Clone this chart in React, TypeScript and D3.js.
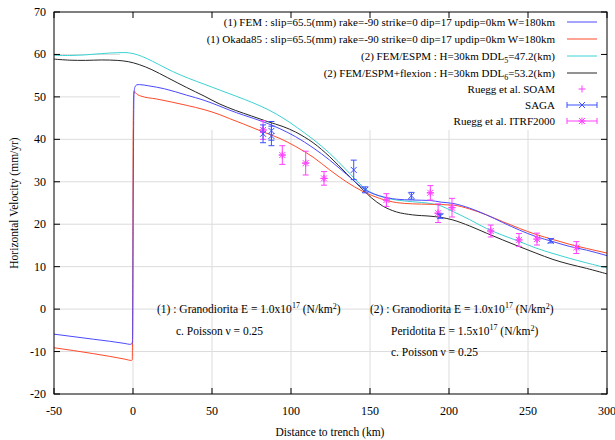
import React from "react";
import * as d3 from "d3";

const xTicks = [-50, 0, 50, 100, 150, 200, 250, 300];
const yTicks = [-20, -10, 0, 10, 20, 30, 40, 50, 60, 70];

const femBlue: [number, number][] = [
  [-50, -5.9], [-25, -7.1], [-5, -8.1], [-2, -8.3], [-0.8, -8.2], [-0.3, -7.5], [0.2, 30], [0.6, 50.5],
  [1.2, 52.3], [2.5, 52.85], [4, 52.9], [10, 52.6], [20, 51.9], [34, 50.4], [45, 49.2], [55, 47.8],
  [61, 46.9], [70, 45.7], [82, 44.2], [93, 42.5], [103, 40.6], [114, 38.0], [124.5, 35.1], [135, 31.8],
  [145.6, 28.5], [150, 27.5], [156, 26.7], [166.7, 25.9], [177, 25.7], [187.8, 25.6], [195, 25.2],
  [202.5, 24.9], [213, 23.8], [223.7, 22.2], [234, 20.4], [244.7, 18.6], [255, 17.1], [265.8, 15.9],
  [276, 14.8], [287, 13.9], [300, 12.6],
];
const okadaRed: [number, number][] = [
  [-50, -9.1], [-25, -10.5], [-5, -11.8], [-1, -12.1], [-0.5, -12.0], [-0.2, 0], [0.1, 40], [0.4, 50.5],
  [0.8, 51.4], [1.5, 51.0], [3, 50.5], [5, 50.2], [15, 49.5], [34, 48.0], [45, 47.0], [55, 45.8], [61, 44.9],
  [70, 43.6], [82, 41.8], [93, 40.2], [103, 38.3], [114, 35.8], [124.5, 32.8], [135, 30.0], [145.6, 27.7],
  [156, 26.1], [166.7, 25.1], [177, 24.8], [188, 24.7], [202.5, 24.5], [213, 23.6], [223.7, 22.2],
  [234, 20.6], [244.7, 19.0], [255, 17.6], [265.8, 16.4], [276, 15.3], [287, 14.3], [300, 13.2],
];
const espmCyan: [number, number][] = [
  [-50, 59.8], [-40, 59.75], [-30, 59.9], [-20, 60.2], [-10, 60.4], [-3, 60.4], [3, 59.9], [9, 59.0],
  [16, 57.7], [25, 56.0], [35, 54.4], [45, 53.0], [55, 51.6], [65, 50.2], [76, 48.6], [86, 46.9],
  [95, 45.0], [103, 43.0], [114, 40.0], [124.5, 36.7], [135, 32.8], [145.6, 28.8], [151, 27.4],
  [158, 26.4], [166.7, 25.7], [177, 25.3], [188, 24.9], [195, 24.3], [202.5, 23.0], [213, 21.1],
  [223.7, 19.0], [234, 17.4], [244.7, 15.9], [255, 14.4], [265.8, 13.1], [276, 12.0], [287, 10.9], [300, 9.7],
];
const flexionBlack: [number, number][] = [
  [-50, 58.9], [-40, 58.65], [-30, 58.6], [-20, 58.7], [-10, 58.6], [-3, 58.3], [4, 57.6], [12, 56.4],
  [22, 54.5], [34, 52.2], [45, 50.2], [55, 48.3], [65, 46.8], [75, 45.5], [85, 44.2], [95, 43.0],
  [103, 41.7], [114, 39.2], [124.5, 35.9], [135, 32.0], [145.6, 28.1], [151, 26.2], [158, 24.3],
  [166.7, 22.9], [177, 22.2], [188, 21.9], [195, 21.6], [202.5, 21.0], [213, 19.6], [223.7, 17.9],
  [234, 16.3], [244.7, 14.7], [255, 13.2], [265.8, 11.7], [276, 10.6], [287, 9.6], [300, 8.3],
];

// [km, velocity, error]
const sagaPts: [number, number, number][] = [
  [82.3, 41.3, 2.1], [87.6, 42.0, 2.2], [87.6, 40.8, 2.3], [139.7, 32.8, 2.3], [147, 28.1, 0.7],
  [176.2, 26.7, 0.8], [194.5, 21.9, 0.5], [264.4, 16.1, 0.5],
];
const itrfPts: [number, number, number][] = [
  [82.3, 42.2, 2.2], [94.5, 36.3, 2.2], [109.3, 34.4, 2.8], [120.9, 30.8, 1.6], [160.4, 25.7, 1.5],
  [188.2, 27.4, 1.7], [193.1, 22.6, 2.2], [201.9, 23.9, 2.2], [226.4, 18.4, 1.4], [244.3, 16.3, 1.5],
  [255.7, 16.5, 1.4], [280.6, 14.5, 1.4],
];
const soamPts: [number, number][] = [
  [82.3, 42.2], [94.5, 36.3], [109.3, 34.4], [120.9, 30.8], [160.4, 25.7], [188.2, 27.4],
  [193.1, 22.6], [201.9, 23.9], [226.4, 18.4], [244.3, 16.3], [255.7, 16.5], [280.6, 14.5],
];

const BLUE = "#4a4aff";
const RED = "#ff4a2a";
const CYAN = "#3cd2d2";
const BLACK = "#262626";
const MAG = "#ff40ff";
const SAGA = "#3a50ff";
const FONT = "Liberation Serif, Times New Roman, serif";

function Cross({ x, y, c, s = 3 }: { x: number; y: number; c: string; s?: number }) {
  return <path d={`M${x - s},${y - s}L${x + s},${y + s}M${x - s},${y + s}L${x + s},${y - s}`} stroke={c} strokeWidth={1} fill="none" />;
}
function Plus({ x, y, c, s = 3.5 }: { x: number; y: number; c: string; s?: number }) {
  return <path d={`M${x - s},${y}L${x + s},${y}M${x},${y - s}L${x},${y + s}`} stroke={c} strokeWidth={1} fill="none" />;
}
function Star({ x, y, c }: { x: number; y: number; c: string }) {
  return <g><Cross x={x} y={y} c={c} s={3} /><Plus x={x} y={y} c={c} s={3.5} /></g>;
}

export default function App() {
  const W = 615, H = 440;
  const left = 54, right = 607, top = 12, bottom = 394;
  const x = d3.scaleLinear().domain([-50, 300]).range([left, right]);
  const y = d3.scaleLinear().domain([-20, 70]).range([bottom, top]);
  const lineM = d3.line<[number, number]>().x(d => x(d[0])).y(d => y(d[1])).curve(d3.curveMonotoneX);
  const lineS = d3.line<[number, number]>().x(d => x(d[0])).y(d => y(d[1])).curve(d3.curveCatmullRom.alpha(0.5));

  const legendY = [22, 39, 56, 73, 89, 105, 121];
  const txtEnd = 555, s0 = 567, s1 = 597, sm = 582;
  const fs = 11;

  const sub = (t: string) => <tspan fontSize={8} dy={3}>{t}</tspan>;

  const errBar = (p: [number, number, number], c: string, k: string) => {
    const cx = x(p[0]), y0 = y(p[1] - p[2]), y1 = y(p[1] + p[2]);
    return (
      <path key={k} d={`M${cx},${y0}L${cx},${y1}M${cx - 3},${y0}L${cx + 3},${y0}M${cx - 3},${y1}L${cx + 3},${y1}`} stroke={c} strokeWidth={1} fill="none" />
    );
  };

  return (
    <svg width={W} height={H} style={{ position: "absolute", left: 0, top: 0, background: "#fff", fontFamily: FONT }} fontFamily={FONT}>
      <rect x={0} y={0} width={W} height={H} fill="#fff" />
      {xTicks.slice(1, -1).map(t => (
        <line key={"gx" + t} x1={x(t)} x2={x(t)} y1={top} y2={bottom} stroke="#dcdcdc" strokeWidth={1} />
      ))}
      {yTicks.slice(1, -1).map(t => (
        <line key={"gy" + t} x1={left} x2={right} y1={y(t)} y2={y(t)} stroke="#dcdcdc" strokeWidth={1} />
      ))}
      <rect x={120} y={top + 1} width={right - 121} height={129 - top} fill="#fff" />

      <path d={lineS(flexionBlack) || ""} fill="none" stroke={BLACK} strokeWidth={1} />
      <path d={lineS(espmCyan) || ""} fill="none" stroke={CYAN} strokeWidth={1} />
      <path d={lineM(okadaRed) || ""} fill="none" stroke={RED} strokeWidth={1} />
      <path d={lineM(femBlue) || ""} fill="none" stroke={BLUE} strokeWidth={1} />

      {soamPts.map((p, i) => <Plus key={"so" + i} x={x(p[0])} y={y(p[1])} c={MAG} />)}
      {itrfPts.map((p, i) => errBar(p, MAG, "ie" + i))}
      {itrfPts.map((p, i) => <Star key={"is" + i} x={x(p[0])} y={y(p[1])} c={MAG} />)}
      {sagaPts.map((p, i) => errBar(p, SAGA, "se" + i))}
      {sagaPts.map((p, i) => <Cross key={"sc" + i} x={x(p[0])} y={y(p[1])} c={SAGA} />)}

      <rect x={left} y={top} width={right - left} height={bottom - top} fill="none" stroke="#000" strokeWidth={1} />
      {xTicks.map(t => (
        <g key={"xt" + t}>
          <line x1={x(t)} x2={x(t)} y1={bottom} y2={bottom - 6} stroke="#000" />
          <line x1={x(t)} x2={x(t)} y1={top} y2={top + 6} stroke="#000" />
          <text x={x(t)} y={415} fontSize={12} textAnchor="middle" fill="#000">{t}</text>
        </g>
      ))}
      {yTicks.map(t => (
        <g key={"yt" + t}>
          <line x1={left} x2={left + 6} y1={y(t)} y2={y(t)} stroke="#000" />
          <line x1={right} x2={right - 6} y1={y(t)} y2={y(t)} stroke="#000" />
          <text x={46} y={y(t) + 4} fontSize={12} textAnchor="end" fill="#000">{t}</text>
        </g>
      ))}

      <text x={330} y={436} fontSize={11.5} textAnchor="middle">Distance to trench (km)</text>
      <text transform={`translate(18,${(top + bottom) / 2}) rotate(-90)`} fontSize={11.5} textAnchor="middle">Horizontal Velocity (mm/yr)</text>

      <g fontSize={fs} fill="#000">
        <text x={txtEnd} y={legendY[0] + 4} textAnchor="end">(1) FEM : slip=65.5(mm) rake=-90 strike=0 dip=17 updip=0km W=180km</text>
        <line x1={s0} x2={s1} y1={legendY[0]} y2={legendY[0]} stroke={BLUE} />
        <text x={txtEnd} y={legendY[1] + 4} textAnchor="end">(1) Okada85 : slip=65.5(mm) rake=-90 strike=0 dip=17 updip=0km W=180km</text>
        <line x1={s0} x2={s1} y1={legendY[1]} y2={legendY[1]} stroke={RED} />
        <text x={txtEnd} y={legendY[2] + 4} textAnchor="end">(2) FEM/ESPM : H=30km DDL{sub("5")}<tspan dy={-3}>=47.2(km)</tspan></text>
        <line x1={s0} x2={s1} y1={legendY[2]} y2={legendY[2]} stroke={CYAN} />
        <text x={txtEnd} y={legendY[3] + 4} textAnchor="end">(2) FEM/ESPM+flexion : H=30km DDL{sub("6")}<tspan dy={-3}>=53.2(km)</tspan></text>
        <line x1={s0} x2={s1} y1={legendY[3]} y2={legendY[3]} stroke={BLACK} />
        <text x={txtEnd} y={legendY[4] + 4} textAnchor="end">Ruegg et al. SOAM</text>
        <Plus x={sm} y={legendY[4]} c={MAG} />
        <text x={txtEnd} y={legendY[5] + 4} textAnchor="end">SAGA</text>
        <path d={`M${s0},${legendY[5]}L${s1},${legendY[5]}M${s0},${legendY[5] - 3}L${s0},${legendY[5] + 3}M${s1},${legendY[5] - 3}L${s1},${legendY[5] + 3}`} stroke={SAGA} fill="none" />
        <Cross x={sm} y={legendY[5]} c={SAGA} />
        <text x={txtEnd} y={legendY[6] + 4} textAnchor="end">Ruegg et al. ITRF2000</text>
        <path d={`M${s0},${legendY[6]}L${s1},${legendY[6]}M${s0},${legendY[6] - 3}L${s0},${legendY[6] + 3}M${s1},${legendY[6] - 3}L${s1},${legendY[6] + 3}`} stroke={MAG} fill="none" />
        <Star x={sm} y={legendY[6]} c={MAG} />
      </g>

      <g fontSize={11.5} fill="#000">
        <text x={157} y={313}>(1) : Granodiorita E = 1.0x10<tspan fontSize={8} dy={-5}>17</tspan><tspan dy={5}> (N/km</tspan><tspan fontSize={8} dy={-4}>2</tspan><tspan dy={4}>)</tspan></text>
        <text x={176} y={335}>c. Poisson ν = 0.25</text>
        <text x={370} y={313}>(2) : Granodiorita E = 1.0x10<tspan fontSize={8} dy={-5}>17</tspan><tspan dy={5}> (N/km</tspan><tspan fontSize={8} dy={-4}>2</tspan><tspan dy={4}>)</tspan></text>
        <text x={391} y={335}>Peridotita E = 1.5x10<tspan fontSize={8} dy={-5}>17</tspan><tspan dy={5}> (N/km</tspan><tspan fontSize={8} dy={-4}>2</tspan><tspan dy={4}>)</tspan></text>
        <text x={391} y={356}>c. Poisson ν = 0.25</text>
      </g>
    </svg>
  );
}
